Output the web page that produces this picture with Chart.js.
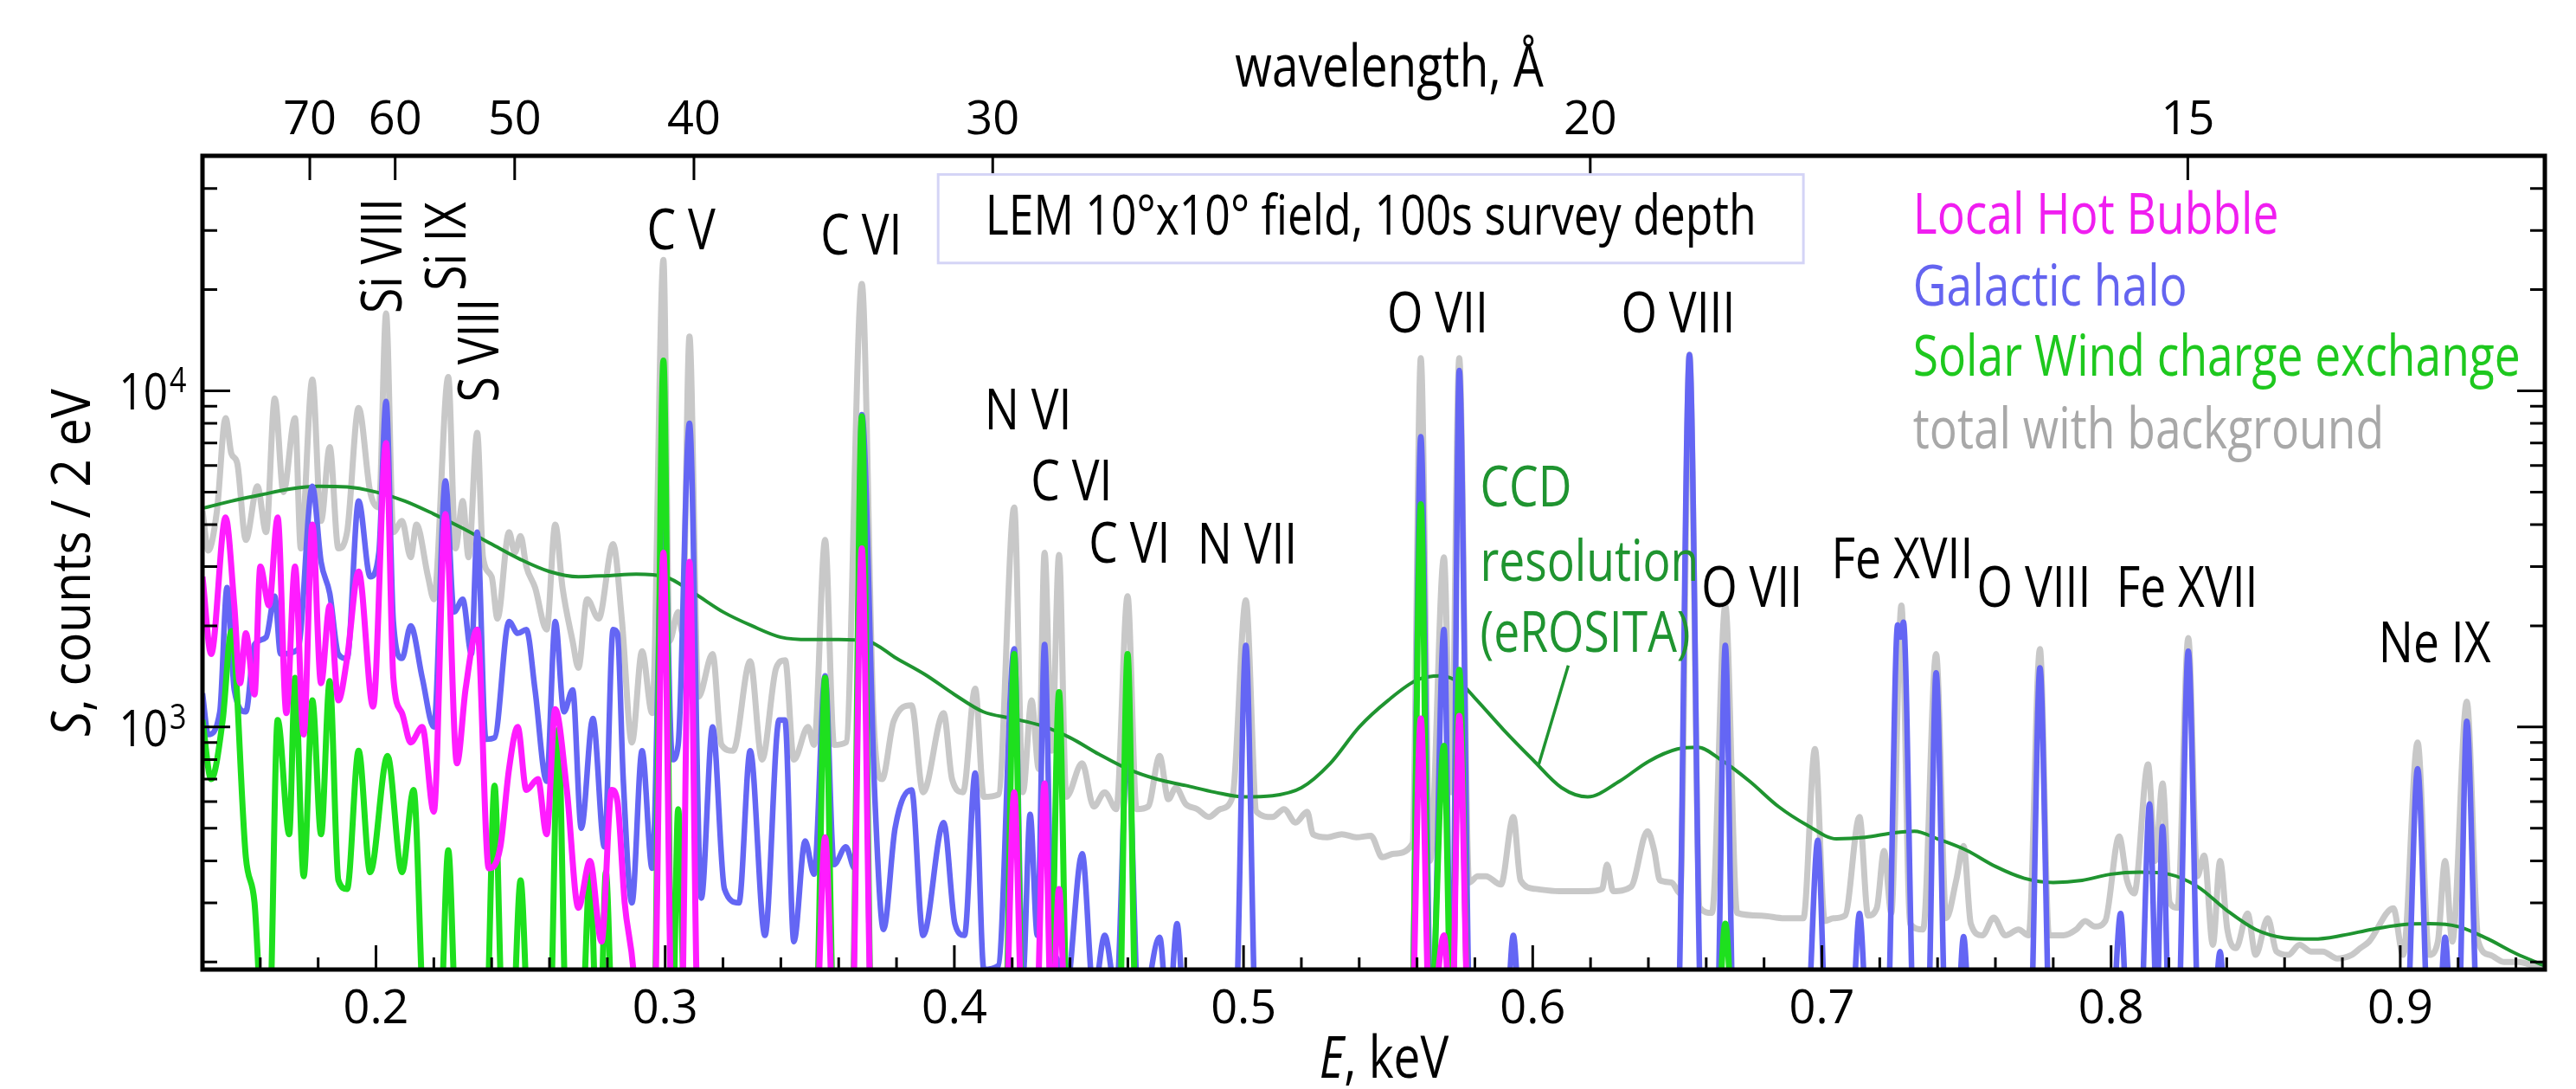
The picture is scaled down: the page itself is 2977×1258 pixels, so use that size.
<!DOCTYPE html>
<html>
<head>
<meta charset="utf-8">
<title>Diffuse soft X-ray sky spectrum</title>
<script src="https://cdn.jsdelivr.net/npm/chart.js@4.4.1/dist/chart.umd.min.js"></script>
<style>
  html, body { margin: 0; padding: 0; background: #fff; }
  #wrap { width: 2977px; height: 1258px; }
</style>
</head>
<body>
<div id="wrap"><canvas id="spec" width="2977" height="1258"></canvas></div>
<script>
// values: [E (keV), S (counts / 2 eV)]; 120 = below the plot floor
const totalPts = [
  [0.140,4400],[0.142,3350],[0.145,4400],[0.148,8300],[0.150,6500],[0.152,6100],[0.155,3600],[0.159,5200],
  [0.162,3800],[0.165,9500],[0.168,5000],[0.172,8300],[0.174,3400],[0.178,10800],[0.181,4100],[0.184,6800],
  [0.187,3400],[0.190,3800],[0.194,8900],[0.198,5000],[0.201,4500],[0.2035,17000],[0.206,3800],[0.209,4100],
  [0.212,3200],[0.214,4000],[0.218,2800],[0.220,2400],[0.225,11000],[0.2275,3400],[0.230,4700],[0.232,3200],
  [0.235,7500],[0.237,3200],[0.240,2800],[0.242,2100],[0.246,3800],[0.248,3300],[0.250,3700],[0.252,3000],
  [0.255,2600],[0.259,1950],[0.262,4000],[0.2645,2600],[0.268,1800],[0.270,1500],[0.273,2400],[0.277,2100],
  [0.282,3500],[0.285,2100],[0.2885,900],[0.292,1680],[0.2955,1100],[0.2994,24500],[0.3015,1800],[0.3045,2200],
  [0.306,1900],[0.3084,14500],[0.3115,1230],[0.3164,1650],[0.3195,885],[0.3235,850],[0.3294,1570],[0.3335,800],
  [0.3384,1500],[0.3415,1580],[0.3445,800],[0.3494,1000],[0.3515,885],[0.3553,3600],[0.3584,885],[0.3625,900],
  [0.368,20800],[0.372,1090],[0.375,700],[0.379,1040],[0.3852,1160],[0.3892,640],[0.3963,1100],[0.3992,700],
  [0.403,640],[0.4072,1300],[0.4102,620],[0.4152,630],[0.4207,4500],[0.4237,640],[0.4267,1200],[0.4292,750],
  [0.4312,3300],[0.4337,850],[0.4362,3250],[0.4387,620],[0.4442,780],[0.4482,580],[0.452,640],[0.456,570],
  [0.4599,2450],[0.463,570],[0.467,580],[0.471,820],[0.474,610],[0.4766,660],[0.480,590],[0.484,570],
  [0.488,540],[0.492,570],[0.4962,620],[0.5008,2380],[0.5045,560],[0.510,540],[0.514,570],[0.518,520],
  [0.522,560],[0.524,480],[0.529,470],[0.534,480],[0.539,470],[0.544,475],[0.548,410],[0.552,420],
  [0.5584,450],[0.5613,12500],[0.5645,400],[0.5693,3200],[0.5718,640],[0.5746,12500],[0.578,345],[0.581,360],
  [0.5838,360],[0.589,340],[0.5933,540],[0.5958,350],[0.601,330],[0.609,325],[0.619,325],[0.624,330],
  [0.6257,390],[0.6278,325],[0.634,335],[0.6397,490],[0.642,430],[0.644,350],[0.648,345],[0.651,320],
  [0.6542,12800],[0.6578,290],[0.662,280],[0.6666,2300],[0.6707,280],[0.679,275],[0.687,270],[0.6936,270],
  [0.6976,860],[0.701,265],[0.704,270],[0.708,275],[0.713,540],[0.716,275],[0.719,290],[0.7215,428],
  [0.724,280],[0.7275,2300],[0.7305,260],[0.735,250],[0.7395,1650],[0.743,270],[0.7465,352],[0.749,443],
  [0.7515,260],[0.7555,240],[0.7594,271],[0.7635,240],[0.768,250],[0.7715,240],[0.7754,1706],[0.7785,240],
  [0.7835,240],[0.788,250],[0.791,265],[0.7944,255],[0.798,265],[0.8028,473],[0.8055,350],[0.808,320],
  [0.8128,774],[0.8153,400],[0.8178,680],[0.8203,300],[0.823,290],[0.8267,1840],[0.8298,360],[0.8322,415],
  [0.8352,225],[0.8377,400],[0.8402,250],[0.8432,220],[0.8472,279],[0.850,210],[0.8542,270],[0.8572,215],
  [0.8612,210],[0.8652,225],[0.8692,215],[0.8732,215],[0.8782,205],[0.8832,210],[0.8862,220],[0.8892,230],
  [0.8976,289],[0.901,210],[0.906,900],[0.910,210],[0.913,230],[0.9155,400],[0.918,230],[0.923,1190],
  [0.927,230],[0.931,210],[0.936,200],[0.941,200],[0.946,195],[0.950,190]
];

const haloPts = [
  [0.140,1260],[0.142,950],[0.146,1110],[0.1485,2600],[0.151,1290],[0.155,1110],[0.158,1760],[0.162,1850],
  [0.165,2450],[0.167,1650],[0.173,1700],[0.178,5200],[0.181,3100],[0.184,2500],[0.187,1650],[0.190,1600],
  [0.194,4700],[0.198,2800],[0.201,3300],[0.2035,9300],[0.206,2060],[0.209,1600],[0.212,2000],[0.216,1400],
  [0.220,1000],[0.224,5400],[0.227,2200],[0.230,2400],[0.233,1650],[0.235,3800],[0.238,920],[0.241,930],
  [0.246,2060],[0.249,1900],[0.252,1950],[0.255,1290],[0.259,690],[0.262,2060],[0.265,1110],[0.268,1290],
  [0.271,500],[0.275,1060],[0.279,440],[0.282,1950],[0.2835,1900],[0.2855,700],[0.2885,300],[0.292,850],
  [0.2955,380],[0.2994,5000],[0.3025,800],[0.3045,885],[0.3084,8000],[0.3125,310],[0.3164,1000],[0.3205,330],
  [0.3255,300],[0.3294,850],[0.3345,240],[0.3394,1050],[0.3414,1050],[0.3445,230],[0.3484,458],[0.3515,365],
  [0.3553,1420],[0.3584,390],[0.3625,440],[0.3655,380],[0.368,8500],[0.3725,620],[0.3755,250],[0.3795,500],
  [0.3852,650],[0.3892,240],[0.3963,520],[0.4002,260],[0.4035,240],[0.4072,730],[0.4102,190],[0.4152,195],
  [0.4207,1710],[0.4237,180],[0.4262,550],[0.4287,240],[0.4312,1760],[0.4337,250],[0.436,200],[0.4385,160],
  [0.4442,420],[0.4482,160],[0.452,240],[0.456,160],[0.4599,900],[0.464,130],[0.471,237],[0.474,130],
  [0.477,260],[0.480,120],[0.497,120],[0.5008,1750],[0.5045,120],[0.558,120],[0.5613,7300],[0.565,120],
  [0.5693,1950],[0.572,120],[0.5746,11500],[0.5785,120],[0.5905,120],[0.5933,240],[0.596,120],[0.650,120],
  [0.6542,12800],[0.6585,120],[0.6636,120],[0.6666,1750],[0.6696,120],[0.6946,120],[0.6986,460],[0.7016,120],
  [0.710,120],[0.713,279],[0.716,120],[0.7225,120],[0.7262,2010],[0.7272,1850],[0.7282,2050],[0.732,120],
  [0.7365,120],[0.7395,1450],[0.743,120],[0.7465,120],[0.749,238],[0.7515,120],[0.772,120],[0.7754,1500],
  [0.779,120],[0.800,120],[0.8033,279],[0.806,120],[0.810,120],[0.8133,590],[0.8158,150],[0.8178,506],
  [0.8203,120],[0.823,120],[0.8267,1680],[0.8305,120],[0.835,120],[0.8377,215],[0.840,120],[0.902,120],
  [0.906,752],[0.910,120],[0.913,120],[0.9155,237],[0.918,120],[0.920,120],[0.923,1040],[0.927,120],
  [0.950,120]
];

const lhbPts = [
  [0.140,2800],[0.143,1650],[0.148,4200],[0.151,2300],[0.153,1350],[0.155,1900],[0.158,1250],[0.160,3000],
  [0.163,2300],[0.166,4200],[0.169,1100],[0.172,3000],[0.175,950],[0.178,4000],[0.181,1350],[0.184,2300],
  [0.187,1200],[0.190,1600],[0.194,2900],[0.199,1150],[0.2035,7000],[0.206,1400],[0.209,1100],[0.212,900],
  [0.216,1000],[0.220,560],[0.224,4300],[0.228,780],[0.231,1300],[0.235,1950],[0.239,380],[0.243,440],
  [0.246,750],[0.249,1000],[0.252,650],[0.256,700],[0.259,480],[0.262,1130],[0.266,650],[0.270,290],
  [0.274,400],[0.278,230],[0.2815,650],[0.2835,600],[0.286,300],[0.289,190],[0.2905,120],[0.296,120],
  [0.2994,3300],[0.3025,120],[0.3055,120],[0.3084,3100],[0.3115,120],[0.352,120],[0.3553,470],[0.3585,120],
  [0.3645,120],[0.368,3400],[0.3715,120],[0.4175,120],[0.4207,640],[0.4237,120],[0.4282,120],[0.4312,680],
  [0.4337,120],[0.4362,330],[0.4387,120],[0.558,120],[0.5613,1060],[0.5645,120],[0.5693,240],[0.572,120],
  [0.5746,1080],[0.578,120],[0.950,120]
];

const swcxPts = [
  [0.140,1050],[0.143,700],[0.147,1050],[0.150,1930],[0.155,410],[0.158,300],[0.161,120],[0.163,120],
  [0.166,1050],[0.170,480],[0.172,1400],[0.175,360],[0.178,1200],[0.181,480],[0.184,1370],[0.187,350],
  [0.190,330],[0.194,850],[0.198,370],[0.204,820],[0.209,370],[0.213,650],[0.217,120],[0.222,120],
  [0.225,430],[0.228,120],[0.238,120],[0.241,670],[0.244,120],[0.247,120],[0.250,350],[0.253,120],
  [0.260,120],[0.263,980],[0.266,120],[0.271,120],[0.274,370],[0.2765,120],[0.2775,120],[0.2795,370],
  [0.282,120],[0.296,120],[0.2994,12300],[0.3025,120],[0.3045,570],[0.307,120],[0.352,120],[0.3553,1400],
  [0.3585,120],[0.3645,120],[0.368,8400],[0.3715,120],[0.4175,120],[0.4207,1650],[0.4237,120],[0.433,120],
  [0.4362,1270],[0.4392,120],[0.4569,120],[0.4599,1650],[0.463,120],[0.558,120],[0.5613,4600],[0.5645,120],
  [0.5693,880],[0.572,120],[0.5746,1480],[0.578,120],[0.6636,120],[0.6666,260],[0.6696,120],[0.950,120]
];

const ccdPts = [
  [0.140,4470],[0.150,4700],[0.160,4900],[0.170,5100],[0.180,5200],[0.190,5180],[0.200,5000],[0.210,4700],
  [0.220,4300],[0.230,3900],[0.240,3500],[0.250,3150],[0.260,2900],[0.270,2800],[0.280,2820],[0.290,2850],
  [0.300,2800],[0.310,2500],[0.320,2200],[0.330,2000],[0.340,1850],[0.350,1820],[0.360,1820],[0.370,1800],
  [0.380,1600],[0.390,1430],[0.400,1250],[0.410,1110],[0.420,1060],[0.430,1010],[0.440,930],[0.450,830],
  [0.460,750],[0.470,700],[0.480,670],[0.490,640],[0.500,620],[0.510,625],[0.520,660],[0.530,780],
  [0.540,1000],[0.550,1200],[0.560,1380],[0.568,1420],[0.575,1350],[0.580,1220],[0.590,980],[0.600,800],
  [0.610,660],[0.619,620],[0.630,690],[0.640,790],[0.650,860],[0.657,870],[0.665,800],[0.675,690],
  [0.685,580],[0.695,510],[0.705,465],[0.715,470],[0.725,485],[0.732,490],[0.740,465],[0.750,430],
  [0.760,385],[0.770,355],[0.780,345],[0.790,350],[0.800,365],[0.810,370],[0.820,365],[0.830,335],
  [0.840,285],[0.850,250],[0.860,236],[0.870,234],[0.880,240],[0.890,250],[0.900,258],[0.910,260],
  [0.920,255],[0.930,235],[0.940,212],[0.950,195]
];

const energyTicks = [0.2, 0.3, 0.4, 0.5, 0.6, 0.7, 0.8, 0.9];
const wavelengthTicks = [70, 60, 50, 40, 30, 20, 15];
const decadeTicks = [1000, 10000];

// ion labels: text, E, S, rotated
const lineLabels = [
  ['Si VIII', 0.2032, 25200, true], ['Si IX', 0.2253, 26900, true], ['S VIII', 0.2367, 13200, true],
  ['C V', 0.3055, 29400], ['C VI', 0.3678, 28400], ['N VI', 0.4255, 8570], ['C VI', 0.4405, 5270],
  ['C VI', 0.4606, 3440], ['N VII', 0.5013, 3420], ['O VII', 0.5671, 16700], ['O VIII', 0.6503, 16700],
  ['O VII', 0.6758, 2540], ['Fe XVII', 0.7278, 3090], ['O VIII', 0.7733, 2540], ['Fe XVII', 0.8263, 2540],
  ['Ne IX', 0.9119, 1740]
];

const legendRows = [
  ['Local Hot Bubble', '#f01ef0'], ['Galactic halo', '#6464f0'],
  ['Solar Wind charge exchange', '#1ec81e'], ['total with background', '#a8a8a8']
];

const HC = 12.398; // keV * Angstrom
const FAMILY = "'Open Sans', 'DejaVu Sans', sans-serif";

const toXY = pts => pts.map(p => ({ x: p[0], y: p[1] }));

// condensed text: scale horizontally by k around the anchor
function say(ctx, text, x, y, k, align, rot) {
  ctx.save();
  ctx.translate(x, y);
  if (rot) ctx.rotate(rot);
  ctx.scale(k, 1);
  ctx.textAlign = align || 'center';
  ctx.fillText(text, 0, 0);
  ctx.restore();
}

function mixedText(ctx, parts, cx, y, size, k) {
  let total = 0;
  parts.forEach(p => { ctx.font = (p[1] ? 'italic ' : '') + size + 'px ' + FAMILY; total += ctx.measureText(p[0]).width * k; });
  let x = cx - total / 2;
  parts.forEach(p => {
    ctx.font = (p[1] ? 'italic ' : '') + size + 'px ' + FAMILY;
    say(ctx, p[0], x, y, k, 'left');
    x += ctx.measureText(p[0]).width * k;
  });
}

const decor = {
  id: 'decor',
  afterDraw(chart) {
    const { ctx, chartArea: a } = chart;
    const xs = chart.scales.x, ys = chart.scales.y;
    const X = v => xs.getPixelForValue(v), Y = v => ys.getPixelForValue(v);
    ctx.save();

    // condense factor so that the legend line fits as in the original figure
    ctx.font = '66px ' + FAMILY;
    const k = 702 / ctx.measureText('Solar Wind charge exchange').width;

    // frame and inward ticks
    ctx.strokeStyle = '#000';
    ctx.lineWidth = 3;
    ctx.beginPath();
    for (let i = 8; i * 0.02 < 0.951; i++) {
      const px = X(i * 0.02), len = i % 5 === 0 ? 28 : 14;
      ctx.moveTo(px, a.bottom); ctx.lineTo(px, a.bottom - len);
    }
    wavelengthTicks.forEach(l => { const px = X(HC / l); ctx.moveTo(px, a.top); ctx.lineTo(px, a.top + 28); });
    for (let d = 2; d <= 4; d++) {
      for (let m = 1; m <= 9; m++) {
        const v = m * Math.pow(10, d);
        if (v <= 190 || v >= 50000) continue;
        const py = Y(v), len = m === 1 ? 32 : 17;
        ctx.moveTo(a.left, py); ctx.lineTo(a.left + len, py);
        ctx.moveTo(a.right, py); ctx.lineTo(a.right - len, py);
      }
    }
    ctx.stroke();
    ctx.lineWidth = 5;
    ctx.strokeRect(a.left, a.top, a.right - a.left, a.bottom - a.top);

    ctx.fillStyle = '#000';
    ctx.textBaseline = 'alphabetic';
    // y tick labels 10^3, 10^4
    decadeTicks.forEach(v => {
      const py = Y(v);
      ctx.font = '58px ' + FAMILY;
      say(ctx, '10', 194, py + 22, 0.85, 'right');
      ctx.font = '40px ' + FAMILY;
      say(ctx, String(Math.round(Math.log10(v))), 196, py + 2, 0.85, 'left');
    });

    // axis titles
    const cx = (a.left + a.right) / 2;
    mixedText(ctx, [['E', true], [', keV', false]], cx + 12, 1245, 68, k);
    mixedText(ctx, [['wavelength, Å', false]], cx + 18, 100, 68, k);
    ctx.save();
    ctx.translate(86, (a.top + a.bottom) / 2);
    ctx.rotate(-Math.PI / 2);
    ctx.textBaseline = 'middle';
    mixedText(ctx, [['S', true], [', counts / 2 eV', false]], 0, 0, 62, 0.92);
    ctx.restore();

    // ion labels
    ctx.font = '66px ' + FAMILY;
    ctx.textBaseline = 'middle';
    lineLabels.forEach(l => say(ctx, l[0], X(l[1]), Y(l[2]), k, 'center', l[3] ? -Math.PI / 2 : 0));

    // survey box
    const bx0 = X(0.3944), bx1 = X(0.6936), by0 = Y(44000), by1 = Y(24000);
    ctx.fillStyle = '#fff';
    ctx.fillRect(bx0, by0, bx1 - bx0, by1 - by0);
    ctx.strokeStyle = '#d4d4f6';
    ctx.lineWidth = 3;
    ctx.strokeRect(bx0, by0, bx1 - bx0, by1 - by0);
    ctx.fillStyle = '#000';
    ctx.font = '64px ' + FAMILY;
    say(ctx, 'LEM 10°x10° field, 100s survey depth', (bx0 + bx1) / 2, (by0 + by1) / 2, k, 'center');

    // legend (text only)
    ctx.font = '66px ' + FAMILY;
    const rowS = [32700, 20100, 12400, 7520];
    legendRows.forEach((r, i) => { ctx.fillStyle = r[1]; say(ctx, r[0], X(0.7315), Y(rowS[i]), k, 'left'); });

    // CCD annotation
    ctx.fillStyle = '#1f9430';
    ['CCD', 'resolution', '(eROSITA)'].forEach((t, i) => say(ctx, t, X(0.5818), Y([5060, 3050, 1870][i]), k, 'left'));
    ctx.strokeStyle = '#1f9430';
    ctx.lineWidth = 3.5;
    ctx.beginPath();
    ctx.moveTo(X(0.6123), Y(1524)); ctx.lineTo(X(0.6021), Y(774));
    ctx.stroke();

    ctx.restore();
  }
};

const lineStyle = { pointRadius: 0, fill: false, cubicInterpolationMode: 'monotone' };

new Chart(document.getElementById('spec'), {
  type: 'line',
  data: {
    datasets: [
      { label: 'Local Hot Bubble', data: toXY(lhbPts), borderColor: '#ff1cff', borderWidth: 7, order: 1, ...lineStyle },
      { label: 'Solar Wind charge exchange', data: toXY(swcxPts), borderColor: '#1ee01e', borderWidth: 7, order: 2, ...lineStyle },
      { label: 'Galactic halo', data: toXY(haloPts), borderColor: '#6466f4', borderWidth: 6.5, order: 3, ...lineStyle },
      { label: 'CCD resolution (eROSITA)', data: toXY(ccdPts), borderColor: '#1f9430', borderWidth: 4, order: 4, ...lineStyle },
      { label: 'total with background', data: toXY(totalPts), borderColor: '#c8c8c8', borderWidth: 7, order: 5, ...lineStyle }
    ]
  },
  options: {
    responsive: false,
    animation: false,
    layout: { padding: { right: 36 } },
    plugins: { legend: { display: false }, tooltip: { enabled: false } },
    scales: {
      x: {
        type: 'linear', position: 'bottom', min: 0.14, max: 0.95,
        afterBuildTicks: s => { s.ticks = energyTicks.map(v => ({ value: v })); },
        afterFit: s => { s.height = 138; },
        grid: { display: false, drawTicks: false },
        border: { display: false },
        ticks: { autoSkip: false, maxRotation: 0, padding: 14, color: '#000',
                 font: { family: FAMILY, size: 54 }, callback: v => v.toFixed(1) }
      },
      x2: {
        type: 'linear', position: 'top', min: 0.14, max: 0.95,
        afterBuildTicks: s => { s.ticks = wavelengthTicks.map(l => ({ value: HC / l })); },
        afterFit: s => { s.height = 180; },
        grid: { display: false, drawTicks: false },
        border: { display: false },
        ticks: { autoSkip: false, maxRotation: 0, padding: 8, color: '#000',
                 font: { family: FAMILY, size: 54 }, callback: (v, i) => String(wavelengthTicks[i]) }
      },
      y: {
        type: 'logarithmic', min: 190, max: 50000,
        afterFit: s => { s.width = 234; },
        grid: { display: false, drawTicks: false },
        border: { display: false },
        ticks: { display: false }
      }
    }
  },
  plugins: [decor]
});
</script>
</body>
</html>
